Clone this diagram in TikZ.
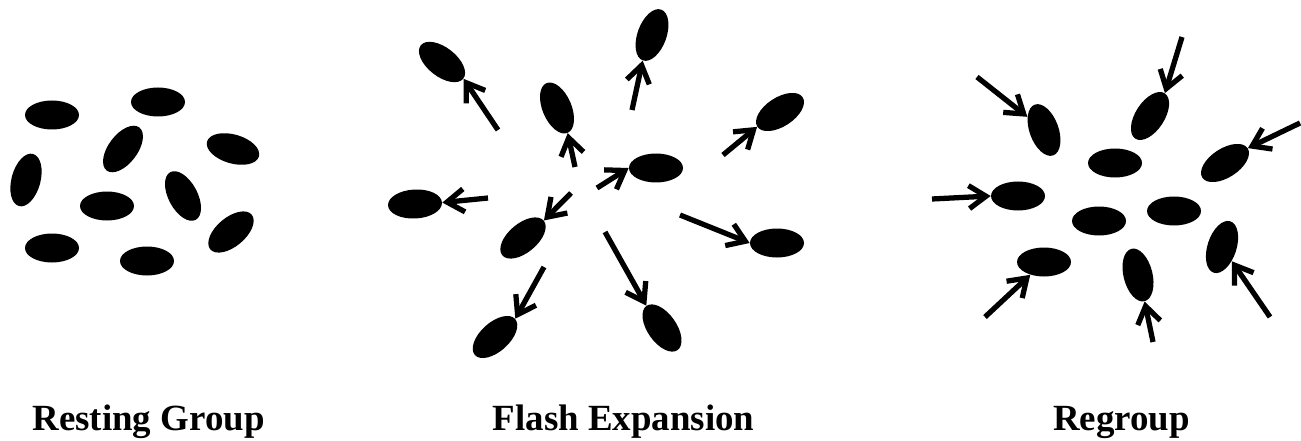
\documentclass[tikz,border=0pt]{standalone}
\usepackage{fontspec}
\setmainfont{Liberation Serif}
\usetikzlibrary{shapes.geometric,arrows.meta}

\begin{document}
\begin{tikzpicture}[
        cell/.style={ellipse, fill=black, inner sep=0pt, minimum width=1.08cm, minimum height=0.58cm},
        move/.style={line width=3pt, -{Straight Barb[length=0.34cm, width=0.46cm]}},
        caption/.style={anchor=base, font=\fontsize{21}{25}\selectfont\bfseries}
    ]
        \useasboundingbox (0,0) rectangle (26.02,8.8);

        % Resting group
        \node[cell] (r1) at (1.04,6.50) {};
        \node[cell] (r2) at (3.16,6.76) {};
        \node[cell, rotate=53] (r3) at (2.46,5.82) {};
        \node[cell, rotate=-16] (r4) at (4.66,5.82) {};
        \node[cell, rotate=75] (r5) at (0.52,5.20) {};
        \node[cell] (r6) at (2.14,4.68) {};
        \node[cell, rotate=-62] (r7) at (3.66,4.88) {};
        \node[cell] (r8) at (1.04,3.84) {};
        \node[cell] (r9) at (2.94,3.58) {};
        \node[cell, rotate=40] (r10) at (4.62,4.16) {};
        \node[caption] (restlabel) at (2.97,0.2) {Resting Group};

        % Flash expansion
        \node[cell, rotate=-38] (f1) at (8.84,7.56) {};
        \node[cell, rotate=-67] (f2) at (11.14,6.64) {};
        \node[cell, rotate=70] (f3) at (13.04,8.10) {};
        \node[cell, rotate=33] (f4) at (15.60,6.56) {};
        \node[cell] (f5) at (13.12,5.44) {};
        \node[cell, rotate=3] (f6) at (8.30,4.72) {};
        \node[cell, rotate=40] (f7) at (10.46,4.04) {};
        \node[cell] (f8) at (15.54,3.94) {};
        \node[cell, rotate=42] (f9) at (9.90,2.06) {};
        \node[cell, rotate=-55] (f10) at (13.24,2.24) {};

        \coordinate (fs1) at (9.96,6.20);
        \coordinate (fs2) at (11.50,5.46);
        \coordinate (fs3) at (12.64,6.60);
        \coordinate (fs4) at (14.46,5.70);
        \coordinate (fs5) at (11.94,5.04);
        \coordinate (fs6) at (9.76,4.84);
        \coordinate (fs7) at (11.42,4.94);
        \coordinate (fs8) at (13.60,4.50);
        \coordinate (fs9) at (10.88,3.46);
        \coordinate (fs10) at (12.10,4.16);

        \draw[move] (fs1) -- (f1.east);
        \draw[move] (fs2) -- (f2.east);
        \draw[move] (fs3) -- (f3.west);
        \draw[move] (fs4) -- (f4.west);
        \draw[move] (fs5) -- (f5.west);
        \draw[move] (fs6) -- (f6.east);
        \draw[move] (fs7) -- (f7.east);
        \draw[move] (fs8) -- (f8.west);
        \draw[move] (fs9) -- (f9.east);
        \draw[move] (fs10) -- (f10.west);
        \node[caption] (flashlabel) at (12.47,0.2) {Flash Expansion};

        % Regroup
        \node[cell, rotate=110] (g1) at (20.88,6.20) {};
        \node[cell, rotate=57] (g2) at (23.00,6.48) {};
        \node[cell, rotate=33] (g3) at (24.50,5.54) {};
        \node[cell] (g4) at (22.30,5.54) {};
        \node[cell] (g5) at (20.36,4.88) {};
        \node[cell] (g6) at (21.98,4.38) {};
        \node[cell] (g7) at (23.48,4.58) {};
        \node[cell] (g8) at (20.88,3.56) {};
        \node[cell, rotate=104] (g9) at (22.76,3.30) {};
        \node[cell, rotate=72] (g10) at (24.44,3.86) {};

        \coordinate (gs1) at (19.54,7.26);
        \coordinate (gs2) at (23.64,8.06);
        \coordinate (gs3) at (26.00,6.34);
        \coordinate (gs5) at (18.64,4.82);
        \coordinate (gs8) at (19.70,2.46);
        \coordinate (gs9) at (23.06,1.96);
        \coordinate (gs10) at (25.40,2.46);

        \draw[move] (gs1) -- (g1);
        \draw[move] (gs2) -- (g2.east);
        \draw[move] (gs3) -- (g3.east);
        \draw[move] (gs5) -- (g5.west);
        \draw[move] (gs8) -- (g8);
        \draw[move] (gs9) -- (g9.west);
        \draw[move] (gs10) -- (g10);
        \node[caption] (regrouplabel) at (22.43,0.2) {Regroup};
    \end{tikzpicture}
\end{document}
